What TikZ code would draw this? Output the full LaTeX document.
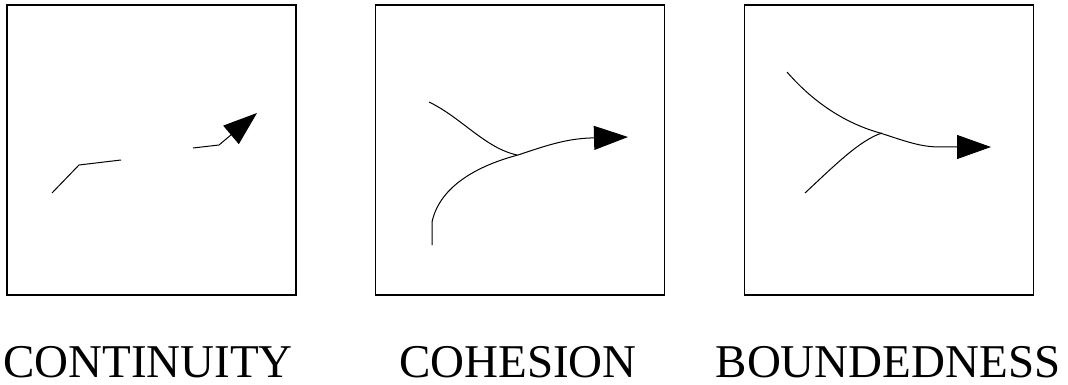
\documentclass[tikz,border=0pt]{standalone}
\usepackage{fontspec}
\setmainfont{Liberation Serif}
\usetikzlibrary{arrows.meta,positioning}

\begin{document}
\begin{tikzpicture}[
    x=1pt, y=-1pt,
    panel/.style={rectangle, draw=black, line width=1.8pt, minimum width=289pt, minimum height=290pt, inner sep=0pt},
    caption/.style={font=\fontsize{47}{50}\selectfont, anchor=base, inner sep=0pt, text depth=0pt},
    stroke/.style={line width=1pt},
    arrowtip/.style={stroke, -{Triangle[length=34pt,width=24pt]}}
]
    \useasboundingbox (0,0) rectangle (1068,385);

    % the three panels
    \node[panel] (cont) at (151.5,150) {};
    \node[panel] (cohe) at (520,150) {};
    \node[panel] (boun) at (889,150) {};

    \node[caption] (contlabel) at (148,377) {CONTINUITY};
    \node[caption] (cohelabel) at (518,377) {COHESION};
    \node[caption] (bounlabel) at (888,377) {BOUNDEDNESS};

    % continuity: broken path
    \draw[stroke] (52,193) -- (79,165) -- (121,160);
    \draw[arrowtip] (193,148) -- (219,145) -- (257,113);

    % cohesion: two paths joining
    \draw[stroke] (429,102) .. controls (462,118) and (485,148) .. (517,155);
    \draw[arrowtip] (432,245) -- (432,222) .. controls (440,185) and (480,165) .. (518,155)
        .. controls (545,146) and (565,139) .. (590,138) -- (628,137);

    % boundedness: two paths splitting
    \draw[arrowtip] (787,72) .. controls (820,110) and (855,126) .. (880,133)
        .. controls (905,141) and (920,147) .. (940,147) -- (991,147);
    \draw[stroke] (805,193) .. controls (835,165) and (860,140) .. (882,133);
\end{tikzpicture}
\end{document}
